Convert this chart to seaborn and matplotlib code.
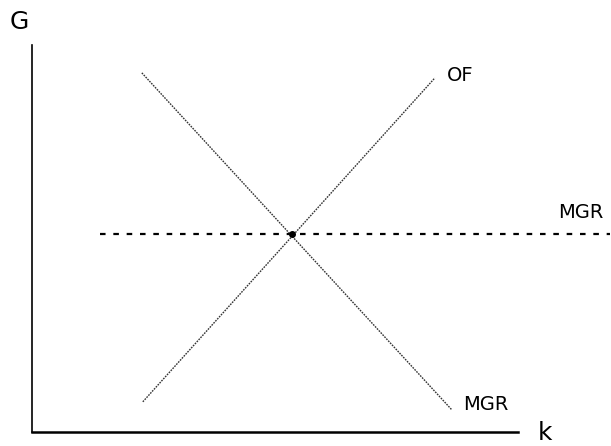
import numpy as np
import pandas as pd
import seaborn as sns
import matplotlib
matplotlib.use("Agg")
import matplotlib.pyplot as plt

# valores lidos do diagrama (k no eixo x, G no eixo y)
k_mgr = [2.26, 8.64]
g_mgr = [9.28, 0.57]

k_of = [2.28, 8.29]
g_of = [0.78, 9.15]

k_hor = [1.40, 11.9]
g_hor = [5.12, 5.12]

k_eq = [5.35]
g_eq = [5.12]

sns.set_style("white")
plt.rcParams['font.family'] = ['Liberation Sans Narrow', 'DejaVu Sans']
plt.rcParams['text.color'] = 'black'

fig = plt.figure(figsize=(6.11, 4.46), dpi=100)
ax = fig.add_axes([32/611, 14/446, 486/611, 387/446])

linha = dict(color='#333333', linewidth=1.0, linestyle=(0, (1.2, 0.8)))

sns.lineplot(x=k_mgr, y=g_mgr, ax=ax, **linha)
sns.lineplot(x=k_of, y=g_of, ax=ax, **linha)

# linha horizontal pontilhada (MGR)
ax.plot(k_hor, g_hor, color='black', linewidth=1.6,
        linestyle=(0, (2.5, 3.5)), clip_on=False)

# ponto de equilibrio
ax.plot(k_eq, g_eq, 'o', color='black', markersize=4, clip_on=False)

ax.set_xlim(0, 10)
ax.set_ylim(0, 10)
ax.set_xticks([])
ax.set_yticks([])
for s in ['top', 'right']:
    ax.spines[s].set_visible(False)
ax.spines['left'].set_color('black')
ax.spines['left'].set_linewidth(1.2)
ax.spines['bottom'].set_color('black')
ax.spines['bottom'].set_linewidth(1.8)

ax.text(8.54, 9.20, "OF", fontsize=14, va='center', ha='left')
ax.text(10.82, 5.66, "MGR", fontsize=14, va='center', ha='left', clip_on=False)
ax.text(8.87, 0.70, "MGR", fontsize=14, va='center', ha='left')
ax.text(-0.27, 10.59, "G", fontsize=18, va='center', ha='center')
ax.text(10.56, -0.03, "k", fontsize=18, va='center', ha='center')

fig.savefig("out.png", dpi=100)
